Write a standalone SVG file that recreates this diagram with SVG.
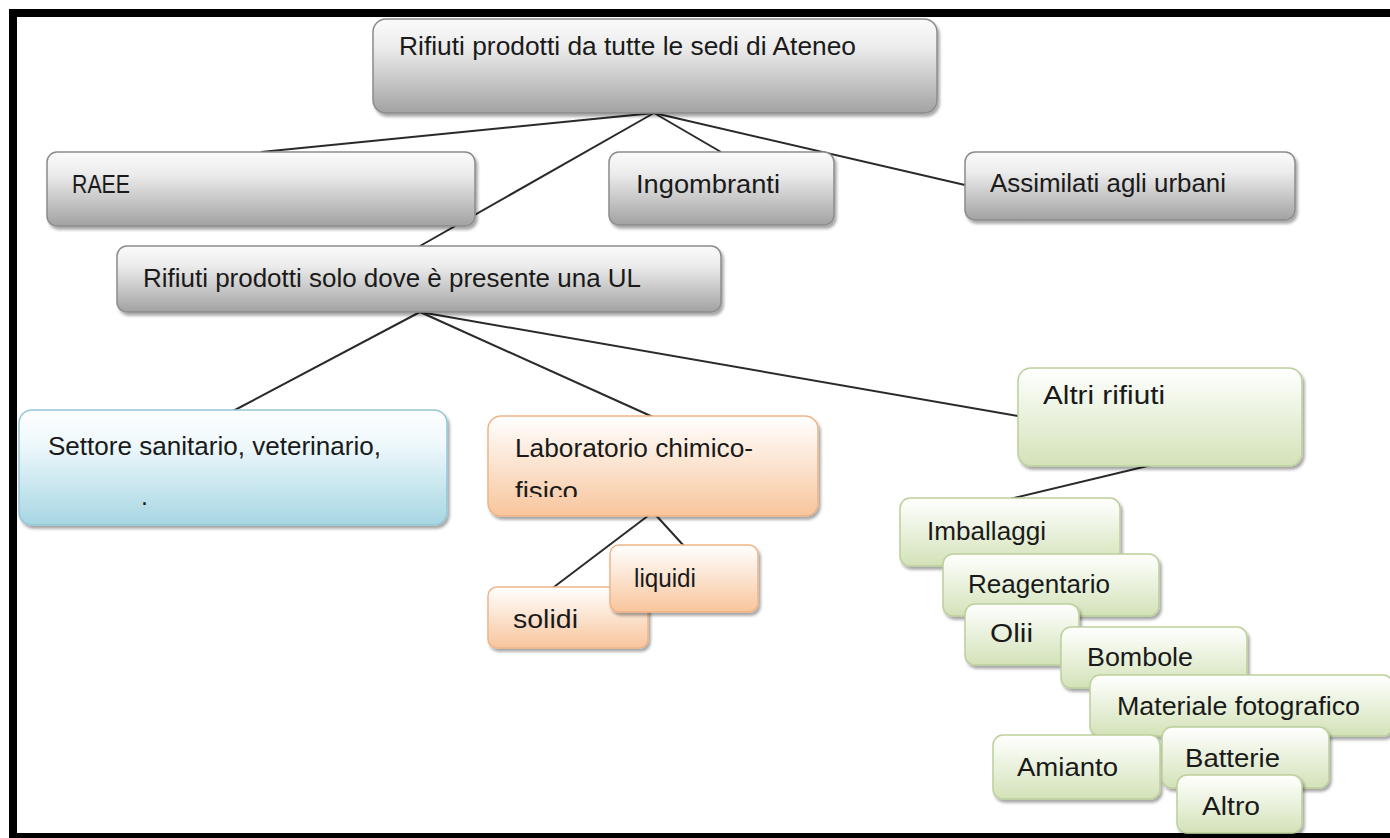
<svg xmlns="http://www.w3.org/2000/svg" width="1390" height="838" viewBox="0 0 1390 838">
<style>
.t{font-family:"Liberation Sans",Arial,sans-serif;font-size:25px;fill:#1a1a1a;}
.gray{fill:url(#gGray);stroke:#8c8c8c;stroke-width:1.5;filter:url(#sh);}
.blue{fill:url(#gBlue);stroke:#95c6d6;stroke-width:1.5;filter:url(#sh);}
.orange{fill:url(#gOrange);stroke:#efb488;stroke-width:1.5;filter:url(#sh);}
.green{fill:url(#gGreen);stroke:#bcd09c;stroke-width:1.5;filter:url(#sh);}
.c{stroke:#2a2a2a;stroke-width:2;fill:none;}
</style>
<defs>
<linearGradient id="gGray" x1="0" y1="0" x2="0" y2="1"><stop offset="0" stop-color="#fbfbfb"/><stop offset="0.3" stop-color="#ececec"/><stop offset="1" stop-color="#a2a2a2"/></linearGradient>
<linearGradient id="gBlue" x1="0" y1="0" x2="0" y2="1"><stop offset="0" stop-color="#ffffff"/><stop offset="0.3" stop-color="#eef8fb"/><stop offset="1" stop-color="#a6d6e3"/></linearGradient>
<linearGradient id="gOrange" x1="0" y1="0" x2="0" y2="1"><stop offset="0" stop-color="#ffffff"/><stop offset="0.3" stop-color="#fdeee2"/><stop offset="1" stop-color="#f8c59c"/></linearGradient>
<linearGradient id="gGreen" x1="0" y1="0" x2="0" y2="1"><stop offset="0" stop-color="#ffffff"/><stop offset="0.3" stop-color="#f2f7ea"/><stop offset="1" stop-color="#d3e2b8"/></linearGradient>
<filter id="sh" x="-5%" y="-10%" width="115%" height="130%"><feDropShadow dx="2" dy="3" stdDeviation="1.5" flood-color="#000" flood-opacity="0.35"/></filter>
<clipPath id="clipLab"><rect x="488" y="416" width="330" height="81"/></clipPath>
</defs>
<rect x="0" y="0" width="1390" height="838" fill="#ffffff"/>
<rect x="13" y="13" width="1400" height="824" fill="none" stroke="#000" stroke-width="8"/>

<g id="connectors">
<line class="c" x1="654" y1="113" x2="261" y2="152"/>
<line class="c" x1="654" y1="113" x2="721" y2="152"/>
<line class="c" x1="654" y1="113" x2="965" y2="185"/>
<line class="c" x1="654" y1="113" x2="420" y2="246"/>
<line class="c" x1="420" y1="312" x2="233" y2="411"/>
<line class="c" x1="420" y1="312" x2="653" y2="417"/>
<line class="c" x1="420" y1="312" x2="1018" y2="416"/>
<line class="c" x1="653" y1="512" x2="546" y2="593"/>
<line class="c" x1="653" y1="512" x2="684" y2="546"/>
<line class="c" x1="1160" y1="463" x2="1010" y2="499"/>
</g>

<g id="n-top"><rect class="gray" x="373" y="19" width="564" height="94" rx="13"/><text class="t" x="399" y="55" textLength="457" lengthAdjust="spacingAndGlyphs">Rifiuti prodotti da tutte le sedi di Ateneo</text></g>
<g id="n-raee"><rect class="gray" x="47" y="152" width="428" height="74" rx="10"/><text class="t" x="72" y="193" textLength="58" lengthAdjust="spacingAndGlyphs">RAEE</text></g>
<g id="n-ingombranti"><rect class="gray" x="609" y="152" width="225" height="73" rx="10"/><text class="t" x="636" y="193" textLength="144" lengthAdjust="spacingAndGlyphs">Ingombranti</text></g>
<g id="n-assimilati"><rect class="gray" x="965" y="152" width="330" height="68" rx="10"/><text class="t" x="990" y="192" textLength="236" lengthAdjust="spacingAndGlyphs">Assimilati agli urbani</text></g>
<g id="n-ul"><rect class="gray" x="117" y="246" width="604" height="66" rx="10"/><text class="t" x="143" y="287" textLength="498" lengthAdjust="spacingAndGlyphs">Rifiuti prodotti solo dove è presente una UL</text></g>

<g id="n-settore"><rect class="blue" x="19" y="410" width="428" height="115" rx="13"/><text class="t" x="48" y="455" textLength="333" lengthAdjust="spacingAndGlyphs">Settore sanitario, veterinario,</text><text class="t" x="141" y="505">.</text></g>
<g id="n-lab"><rect class="orange" x="488" y="416" width="330" height="100" rx="13"/><g clip-path="url(#clipLab)"><text class="t" x="515" y="457" textLength="238" lengthAdjust="spacingAndGlyphs">Laboratorio chimico-</text><text class="t" x="515" y="500" textLength="63" lengthAdjust="spacingAndGlyphs">fisico</text></g></g>
<g id="n-solidi"><rect class="orange" x="488" y="587" width="160" height="61" rx="9"/><text class="t" x="513" y="628" textLength="65" lengthAdjust="spacingAndGlyphs">solidi</text></g>
<g id="n-liquidi"><rect class="orange" x="610" y="545" width="148" height="67" rx="9"/><text class="t" x="634" y="587" textLength="62" lengthAdjust="spacingAndGlyphs">liquidi</text></g>

<g id="n-altri"><rect class="green" x="1018" y="368" width="284" height="98" rx="13"/><text class="t" x="1043" y="404" textLength="122" lengthAdjust="spacingAndGlyphs">Altri rifiuti</text></g>
<g id="n-imballaggi"><rect class="green" x="900" y="498" width="220" height="68" rx="10"/><text class="t" x="927" y="540" textLength="119" lengthAdjust="spacingAndGlyphs">Imballaggi</text></g>
<g id="n-reagentario"><rect class="green" x="943" y="554" width="216" height="62" rx="10"/><text class="t" x="968" y="593" textLength="142" lengthAdjust="spacingAndGlyphs">Reagentario</text></g>
<g id="n-olii"><rect class="green" x="965" y="604" width="114" height="61" rx="10"/><text class="t" x="990" y="642" textLength="43" lengthAdjust="spacingAndGlyphs">Olii</text></g>
<g id="n-bombole"><rect class="green" x="1061" y="627" width="186" height="61" rx="10"/><text class="t" x="1087" y="666" textLength="106" lengthAdjust="spacingAndGlyphs">Bombole</text></g>
<g id="n-materiale"><rect class="green" x="1090" y="675" width="303" height="61" rx="10"/><text class="t" x="1117" y="715" textLength="243" lengthAdjust="spacingAndGlyphs">Materiale fotografico</text></g>
<g id="n-amianto"><rect class="green" x="993" y="735" width="167" height="64" rx="10"/><text class="t" x="1017" y="776" textLength="101" lengthAdjust="spacingAndGlyphs">Amianto</text></g>
<g id="n-batterie"><rect class="green" x="1162" y="727" width="167" height="61" rx="10"/><text class="t" x="1185" y="767" textLength="95" lengthAdjust="spacingAndGlyphs">Batterie</text></g>
<g id="n-altro"><rect class="green" x="1177" y="775" width="125" height="58" rx="10"/><text class="t" x="1202" y="815" textLength="58" lengthAdjust="spacingAndGlyphs">Altro</text></g>
</svg>
